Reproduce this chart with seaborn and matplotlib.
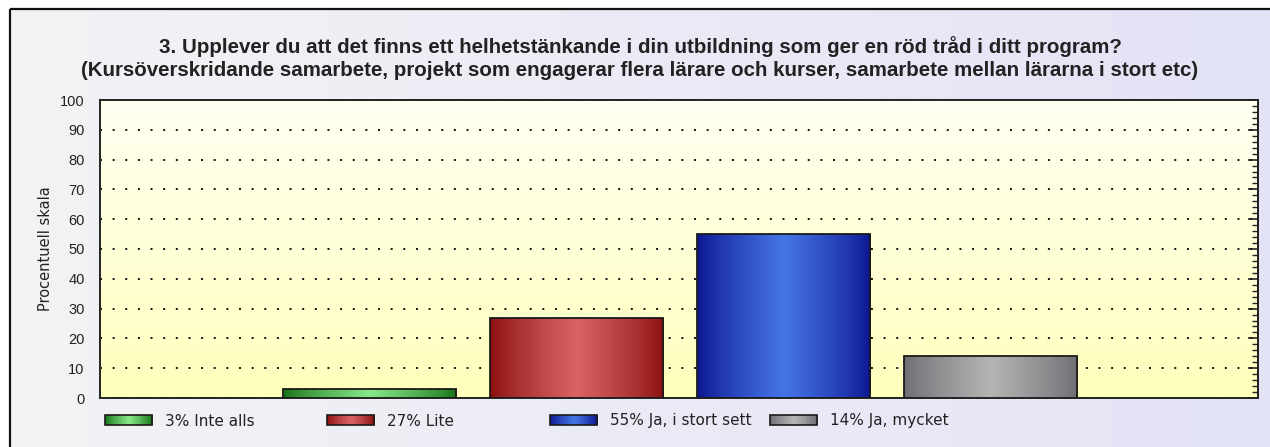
import numpy as np
import matplotlib
matplotlib.use("Agg")
import matplotlib.pyplot as plt
import seaborn as sns
from matplotlib.colors import LinearSegmentedColormap
from matplotlib.patches import Rectangle
from matplotlib.legend_handler import HandlerBase
from matplotlib.ticker import MultipleLocator

# data
categories = ["3% Inte alls", "27% Lite", "55% Ja, i stort sett", "14% Ja, mycket"]
values = [3, 27, 55, 14]
title = ("3. Upplever du att det finns ett helhetstänkande i din utbildning som ger en röd tråd i ditt program?\n"
         "(Kursöverskridande samarbete, projekt som engagerar flera lärare och kurser, samarbete mellan lärarna i stort etc)")
ylabel = "Procentuell skala"

# bar colours: (edge shade, centre shade)
shades = {
    "3% Inte alls": ("#157015", "#86e886"),
    "27% Lite": ("#8a0e0e", "#d96464"),
    "55% Ja, i stort sett": ("#0b1590", "#4575e6"),
    "14% Ja, mycket": ("#6c6c72", "#b4b4b4"),
}
palette = {k: v[1] for k, v in shades.items()}

sns.set_style("white")
plt.rcParams["font.family"] = ["Liberation Sans", "DejaVu Sans"]

W, H = 1270, 447
fig = plt.figure(figsize=(W / 100, H / 100), dpi=100)
fig.patch.set_facecolor("white")

# outer frame with soft horizontal gradient
bg = fig.add_axes([0, 0, 1, 1], zorder=-10)
bg.set_axis_off()
bg.set_xlim(0, W)
bg.set_ylim(H, 0)
frame_cmap = LinearSegmentedColormap.from_list("frame", ["#f3f3f5", "#e3e3f7"])
bg.imshow(np.linspace(0, 1, 256)[None, :], cmap=frame_cmap, aspect="auto",
          extent=(10, W, H, 9))
bg.add_patch(Rectangle((10, 9), W, H, fill=False, edgecolor="#111111", lw=1.6))

# plot area
ax = fig.add_axes([100 / W, 1 - 398 / H, 1158 / W, 298 / H])
sns.barplot(x=categories, y=values, hue=categories, palette=palette, width=0.837,
            legend=False, edgecolor="#1a1a1a", linewidth=1.3, saturation=1, ax=ax, zorder=3)

# yellow background gradient
area_cmap = LinearSegmentedColormap.from_list("area", ["#fffff2", "#ffffbc"])
ax.imshow(np.linspace(0, 1, 256)[:, None], cmap=area_cmap, aspect="auto",
          extent=(0, 1, 0, 1), transform=ax.transAxes, zorder=0)

# cylindrical shading on each bar
xs = np.linspace(-1, 1, 256)
prof = (1 - np.abs(xs)) ** 0.8
for patch, cat in zip(ax.patches, categories):
    edge, centre = shades[cat]
    cm = LinearSegmentedColormap.from_list(cat, [edge, centre])
    x0, y0 = patch.get_x(), patch.get_y()
    w, h = patch.get_width(), patch.get_height()
    im = ax.imshow(prof[None, :], cmap=cm, aspect="auto", vmin=0, vmax=1,
                   extent=(x0, x0 + w, y0, y0 + h), zorder=3.5)
    im.set_clip_path(patch)
    patch.set_facecolor("none")
    patch.set_zorder(4)
ax.set_xlim(-1.306, 4.296)
ax.set_ylim(0, 100)

# dotted grid
ax.yaxis.set_major_locator(MultipleLocator(10))
ax.yaxis.set_minor_locator(MultipleLocator(2))
ax.grid(axis="y", which="major", color="#111111", linestyle=(0, (1, 5.5)), lw=1.4, zorder=1)
ax.set_axisbelow(True)

ax.set_xticks([])
ax.set_xlabel("")
ax.tick_params(axis="y", which="major", direction="inout", length=8, width=1.2,
               color="#222222", labelsize=10.5, pad=7, labelcolor="#222222")
ax.tick_params(axis="y", which="minor", direction="inout", length=5, width=1.0, color="#222222")
for lab in ax.get_yticklabels():
    lab.set_family(["Liberation Sans Narrow", "Liberation Sans", "DejaVu Sans"])
for side in ["left", "right", "top", "bottom"]:
    ax.spines[side].set_color("#222222")
    ax.spines[side].set_linewidth(1.4)

sec = ax.secondary_yaxis("right")
sec.yaxis.set_major_locator(MultipleLocator(10))
sec.yaxis.set_minor_locator(MultipleLocator(2))
sec.tick_params(which="major", direction="in", length=7, width=1.2, color="#222222", labelright=False)
sec.tick_params(which="minor", direction="in", length=4, width=1.0, color="#222222")
sec.spines["right"].set_color("#222222")
sec.spines["right"].set_linewidth(1.4)

fig.text(45 / W, 1 - 249 / H, ylabel, rotation=90, ha="center", va="center",
         fontsize=10.5, family=["DejaVu Sans"], color="#222222")

fig.text(640 / W, 1 - 58 / H, title, ha="center", va="center", fontsize=14.8,
         fontweight="bold", color="#222222", linespacing=1.25)


class GradientHandler(HandlerBase):
    """legend swatch with the same cylindrical shading as the bars"""

    def __init__(self, edge, centre, **kw):
        super().__init__(**kw)
        self.cm = LinearSegmentedColormap.from_list("h", [edge, centre])

    def create_artists(self, legend, orig_handle, xdescent, ydescent, width, height, fontsize, trans):
        n = 24
        arts = []
        for i in range(n):
            t = abs((i + 0.5) / n * 2 - 1)
            r = Rectangle((-xdescent + width * i / n, -ydescent), width / n + 0.3, height,
                          facecolor=self.cm((1 - t) ** 0.8), edgecolor="none", transform=trans)
            arts.append(r)
        arts.append(Rectangle((-xdescent, -ydescent), width, height, facecolor="none",
                              edgecolor="#1a1a1a", lw=1.2, transform=trans))
        return arts


# legend entries placed like the original fixed columns
legend_x = [105, 327, 550, 770]
for patch, cat, lx in zip(ax.patches, categories, legend_x):
    edge, centre = shades[cat]
    leg = fig.legend([patch], [cat], loc="center left", bbox_to_anchor=(lx / W, 1 - 421 / H),
                     frameon=False, borderpad=0, borderaxespad=0, handlelength=3.1,
                     handleheight=0.62, handletextpad=0.8,
                     handler_map={patch: GradientHandler(edge, centre)},
                     prop={"family": "DejaVu Sans", "size": 11})
    for t in leg.get_texts():
        t.set_color("#222222")

fig.savefig("out.png", dpi=100)
